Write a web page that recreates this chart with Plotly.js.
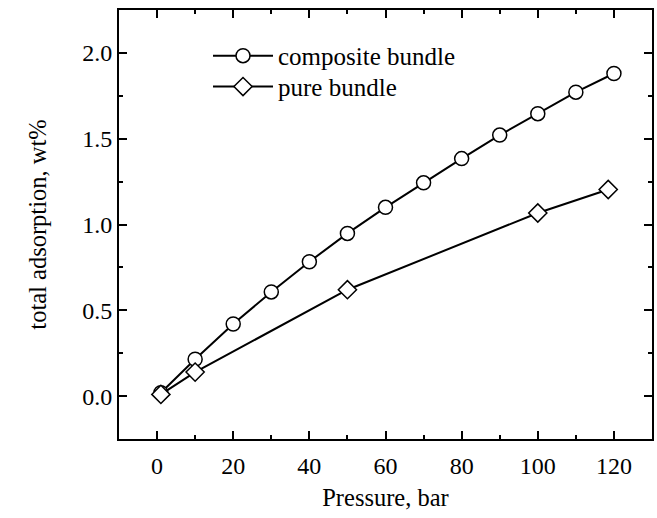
<!DOCTYPE html>
<html>
<head>
<meta charset="utf-8">
<script src="https://cdn.plot.ly/plotly-3.0.1.min.js"></script>
<style>html,body{margin:0;padding:0;background:#fff;}#chart{width:657px;height:518px;}</style>
</head>
<body>
<div id="chart"></div>
<script>
// Data
const compositePressure = [1, 10, 20, 30, 40, 50, 60, 70, 80, 90, 100, 110, 120];
const compositeAdsorption = [0.02, 0.215, 0.42, 0.607, 0.783, 0.948, 1.10, 1.243, 1.384, 1.521, 1.646, 1.771, 1.88];
const purePressure = [1, 10, 50, 100, 118.5];
const pureAdsorption = [0.01, 0.14, 0.62, 1.067, 1.204];
const seriesNames = ['composite bundle', 'pure bundle'];

const font = {family: '"Liberation Serif", "Times New Roman", serif', color: '#000'};

const traces = [
  {
    x: compositePressure, y: compositeAdsorption, name: seriesNames[0],
    type: 'scatter', mode: 'lines+markers', legend: 'legend',
    line: {color: '#000', width: 2},
    marker: {symbol: 'circle', size: 14, color: '#fff', line: {color: '#000', width: 1.5}}
  },
  {
    x: purePressure, y: pureAdsorption, name: seriesNames[1],
    type: 'scatter', mode: 'lines+markers', legend: 'legend2',
    line: {color: '#000', width: 2},
    marker: {symbol: 'diamond', size: 14, color: '#fff', line: {color: '#000', width: 1.5}}
  }
];

const axisCommon = {
  showgrid: false, zeroline: false, showline: true, linecolor: '#000', linewidth: 2,
  mirror: 'ticks', ticks: 'inside', ticklen: 8, tickwidth: 2, tickcolor: '#000',
  tickfont: Object.assign({size: 24}, font)
};

const legendCommon = {
  xanchor: 'left', yanchor: 'middle',
  bgcolor: 'rgba(0,0,0,0)', borderwidth: 0,
  font: Object.assign({size: 25}, font),
  itemwidth: 60
};

const layout = {
  width: 657, height: 518,
  margin: {l: 119, r: 5, t: 10, b: 79},
  paper_bgcolor: '#fff', plot_bgcolor: '#fff',
  font: font,
  showlegend: true,
  legend: Object.assign({x: 0.167, y: 0.893}, legendCommon),
  legend2: Object.assign({x: 0.167, y: 0.821}, legendCommon),
  xaxis: Object.assign({}, axisCommon, {
    range: [-10, 130], tick0: 0, dtick: 20, ticklabelstandoff: 4,
    minor: {dtick: 10, ticks: 'inside', ticklen: 4, tickwidth: 2, tickcolor: '#000'},
    title: {text: 'Pressure, bar', font: Object.assign({size: 24.5}, font), standoff: 11}
  }),
  yaxis: Object.assign({}, axisCommon, {
    range: [-0.25, 2.25], tick0: 0, dtick: 0.5, tickformat: '.1f',
    minor: {dtick: 0.25, ticks: 'inside', ticklen: 4, tickwidth: 2, tickcolor: '#000'},
    title: {text: 'total adsorption, wt%', font: Object.assign({size: 24.5}, font), standoff: 29}
  })
};

Plotly.newPlot('chart', traces, layout, {displayModeBar: false, staticPlot: true});
</script>
</body>
</html>
